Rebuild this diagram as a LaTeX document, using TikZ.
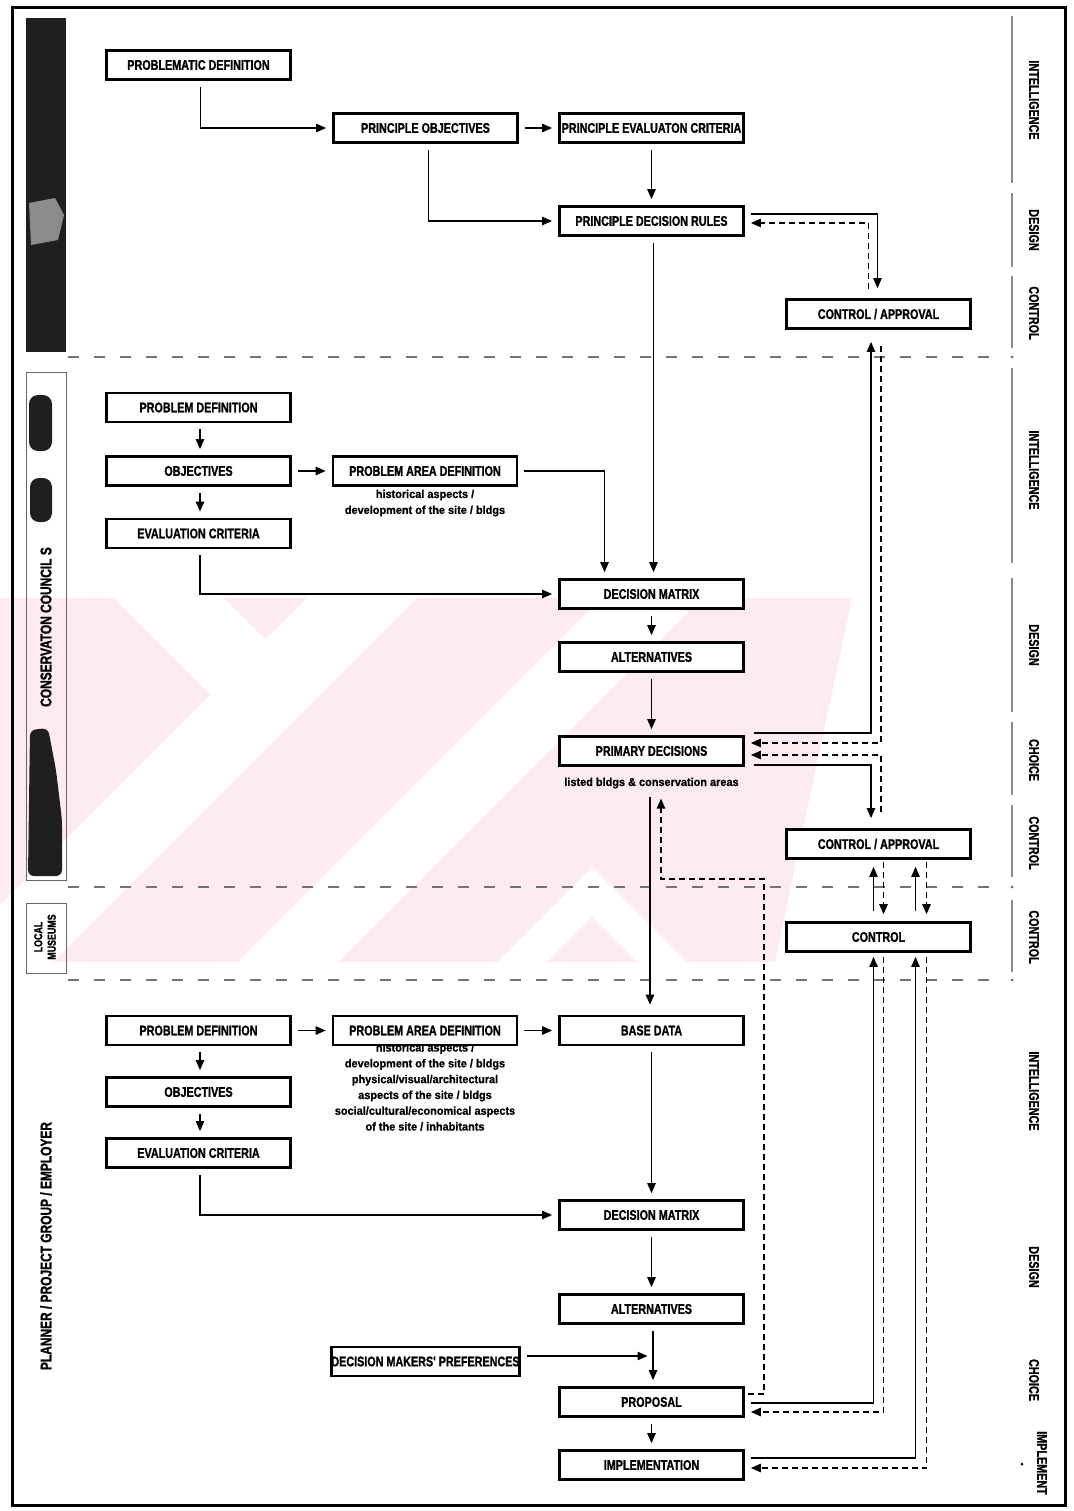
\documentclass[tikz,border=0pt]{standalone}
\usepackage{fontspec}
\newfontfamily\cf[FakeStretch=0.77,FakeBold=1.2]{Liberation Sans Bold}
\newfontfamily\cfs[FakeStretch=0.95,FakeBold=0.8]{Liberation Sans Bold}
\usetikzlibrary{arrows.meta,calc}
\definecolor{wm}{RGB}{253,235,239}
\begin{document}
\begin{tikzpicture}[x=1pt,y=-1pt,
  box/.style={draw, line width=2.8pt, minimum width=184pt, minimum height=29pt, inner sep=0pt, fill=white,
    font=\cf\fontsize{14}{15}\selectfont},
  arr/.style={line width=1.2pt, -{Triangle[length=10pt,width=8.5pt]}, shorten <=6pt, shorten >=6pt},
  darr/.style={arr, dash pattern=on 6pt off 4pt},
  sep/.style={line width=1.6pt, black!55, dash pattern=on 11pt off 15pt},
  rline/.style={line width=1.4pt, black!45},
  lab/.style={font=\cf\fontsize{14}{15}\selectfont, rotate=-90, inner sep=0pt},
  llab/.style={font=\cf\fontsize{15.5}{16}\selectfont, rotate=90, inner sep=0pt},
  small/.style={font=\cfs\fontsize{11.5}{16}\selectfont, align=center, inner sep=0pt},
]
\useasboundingbox (0,0) rectangle (1073,1511);
\fill[white] (0,0) rectangle (1073,1511);

% faint watermark
\begin{scope}
\clip (0,598) -- (852,598) -- (775,962) -- (0,962) -- cycle;
\fill[wm] (0,598) rectangle (860,962);
\fill[white] (307,598) -- (417,598) -- (53,962) -- (-57,962) -- cycle;
\fill[white] (114,598) -- (224,598) -- (320,694) -- (210,694) -- cycle;
\fill[white] (602,598) -- (702,598) -- (338,962) -- (238,962) -- cycle;
\fill[white] (592,867) -- (687,962) -- (637,962) -- (592,917) -- (547,962) -- (497,962) -- cycle;
\end{scope}

% outer frame
\draw[line width=3pt] (12,8) rectangle (1065,1505);

% left side panels
\fill[black!88] (26,18) rectangle (66,352);
\fill[black!45] (29,203) -- (55,198) -- (64,215) -- (58,240) -- (31,245) -- cycle;
\draw[line width=0.6pt, black!60] (26,372) rectangle (66,880);
\fill[black!88, rounded corners=9pt] (29,395) rectangle (52,451);
\fill[black!88, rounded corners=9pt] (30,478) rectangle (52,522);
\fill[black!88, rounded corners=6pt] (30,730) -- (48,728) -- (56,770) -- (62,820) -- (62,876) -- (28,876) -- cycle;
\node[llab] (cc) at (46,627) {CONSERVATON COUNCIL S};
\draw[line width=0.6pt, black!60] (26,903) rectangle (66,973);
\node[font=\cf\fontsize{11.5}{13.5}\selectfont, rotate=90, align=center, inner sep=0pt] (lm) at (45,937) {LOCAL\\MUSEUMS};
\node[llab] (pl) at (46,1246) {PLANNER / PROJECT GROUP / EMPLOYER};

% separators
\foreach \yy in {357,887,980}{
  \draw[sep] (68,\yy) -- (1002,\yy);
  \fill[black!60] (1012,\yy) circle (1.5pt);
}

% right side lines and labels
\foreach \a/\b in {16/183,193/267,276/348,368/563,578/712,722/795,805/877,900/972}{
  \draw[rline] (1012,\a) -- (1012,\b);
}
\fill (1022,1464) circle (1.5pt);
\node[lab] (l1) at (1034,100) {INTELLIGENCE};
\node[lab] (l2) at (1034,230) {DESIGN};
\node[lab] (l3) at (1034,313) {CONTROL};
\node[lab] (l4) at (1034,470) {INTELLIGENCE};
\node[lab] (l5) at (1034,645) {DESIGN};
\node[lab] (l6) at (1034,760) {CHOICE};
\node[lab] (l7) at (1034,843) {CONTROL};
\node[lab] (l8) at (1034,937) {CONTROL};
\node[lab] (l9) at (1034,1091) {INTELLIGENCE};
\node[lab] (l10) at (1034,1267) {DESIGN};
\node[lab] (l11) at (1034,1380) {CHOICE};
\node[lab] (l12) at (1042,1463) {IMPLEMENT};

% boxes
\node[box] (pd0) at (198.5,65) {PROBLEMATIC DEFINITION};
\node[box] (po) at (425.5,128) {PRINCIPLE OBJECTIVES};
\node[box] (pec) at (651.5,128) {PRINCIPLE EVALUATON CRITERIA};
\node[box] (pdr) at (651.5,221) {PRINCIPLE DECISION RULES};
\node[box] (ca1) at (878.5,314) {CONTROL / APPROVAL};

\node[box] (pd2) at (198.5,407.5) {PROBLEM DEFINITION};
\node[box] (ob2) at (198.5,471) {OBJECTIVES};
\node[box] (pad2) at (425,471) {PROBLEM AREA DEFINITION};
\node[small] (pad2t) at (425,503) {historical aspects /\\development of the site / bldgs};
\node[box] (ec2) at (198.5,533.5) {EVALUATION CRITERIA};
\node[box] (dm1) at (651.5,594) {DECISION MATRIX};
\node[box] (al1) at (651.5,657) {ALTERNATIVES};
\node[box] (prd) at (651.5,751) {PRIMARY DECISIONS};
\node[small] (prdt) at (651.5,783) {listed bldgs \& conservation areas};
\node[box] (ca2) at (878.5,844) {CONTROL / APPROVAL};
\node[box] (ctl) at (878.5,937) {CONTROL};

\node[small, anchor=north, font=\cfs\fontsize{11.5}{15.8}\selectfont] (pad3t) at (425,1043) {historical aspects /\\development of the site / bldgs\\physical/visual/architectural\\aspects of the site / bldgs\\social/cultural/economical aspects\\of the site / inhabitants};
\node[box] (pd3) at (198.5,1030.5) {PROBLEM DEFINITION};
\node[box] (pad3) at (425,1030.5) {PROBLEM AREA DEFINITION};
\node[box] (bd) at (651.5,1030.5) {BASE DATA};
\node[box] (ob3) at (198.5,1092) {OBJECTIVES};
\node[box] (ec3) at (198.5,1153) {EVALUATION CRITERIA};
\node[box] (dm3) at (651.5,1215) {DECISION MATRIX};
\node[box] (al3) at (651.5,1309) {ALTERNATIVES};
\node[box] (dmp) at (425.5,1361.5) {DECISION MAKERS' PREFERENCES};
\node[box] (pro) at (651.5,1402) {PROPOSAL};
\node[box] (imp) at (651.5,1465) {IMPLEMENTATION};

% top section connectors
\draw[arr] ([xshift=2pt]pd0.south) |- (po.west);
\draw[arr] (po) -- (pec);
\draw[arr] ([xshift=3pt]po.south) |- (pdr.west);
\draw[arr] (pec) -- (pdr);
\draw[arr] ([xshift=2pt]pdr.south) -- ([xshift=2pt]dm1.north);
\draw[arr, shorten >=10pt] ([yshift=7pt]pdr.east) -| ([xshift=-1pt]ca1.north);
\draw[darr, shorten <=9pt] ([xshift=-10pt]ca1.north) |- ([yshift=-2pt]pdr.east);

% middle section connectors
\draw[arr] ([xshift=1.5pt]pd2.south) -- ([xshift=1.5pt]ob2.north);
\draw[arr] ([xshift=1.5pt]ob2.south) -- ([xshift=1.5pt]ec2.north);
\draw[arr] (ob2) -- (pad2);
\draw[arr] (pad2.east) -| ([xshift=-47pt]dm1.north);
\draw[arr] ([xshift=1.5pt]ec2.south) |- (dm1.west);
\draw[arr] (dm1) -- (al1);
\draw[arr] (al1) -- (prd);

% primary decisions <-> control/approval
\draw[arr, shorten <=9pt, shorten >=12pt] ([yshift=18pt]prd.east) -| ([xshift=-7.5pt]ca1.south);
\draw[darr, shorten <=16pt] ([xshift=2.5pt]ca1.south) |- ([yshift=8pt]prd.east);
\draw[darr, shorten <=16pt] ([xshift=2.5pt]ca2.north) |- ([yshift=-4pt]prd.east);
\draw[arr, shorten <=9pt, shorten >=10pt] ([yshift=-14pt]prd.east) -| ([xshift=-7.5pt]ca2.north);

% control/approval <-> control
\draw[arr, shorten <=10pt, shorten >=7pt] ([xshift=-5pt]ctl.north) -- ([xshift=-5pt]ca2.south);
\draw[darr, shorten <=2pt, shorten >=7pt] ([xshift=5pt]ca2.south) -- ([xshift=5pt]ctl.north);
\draw[arr, shorten <=10pt, shorten >=7pt] ([xshift=37pt]ctl.north) -- ([xshift=37pt]ca2.south);
\draw[darr, shorten <=2pt, shorten >=7pt] ([xshift=48pt]ca2.south) -- ([xshift=48pt]ctl.north);

% control <-> proposal / implementation
\draw[arr, shorten <=6pt, shorten >=4pt] ([yshift=-1pt]pro.east) -| ([xshift=-5pt]ctl.south);
\draw[darr, shorten <=4pt] ([xshift=5pt]ctl.south) |- ([yshift=-10pt]pro.east);
\draw[arr, shorten <=6pt, shorten >=4pt] ([yshift=7pt]imp.east) -| ([xshift=37pt]ctl.south);
\draw[darr, shorten <=4pt] ([xshift=48pt]ctl.south) |- ([yshift=-3pt]imp.east);

% proposal -> primary decisions (dashed) and primary decisions -> base data
\coordinate (c1) at (764,879);
\draw[darr, shorten <=3pt, shorten >=10pt] ([yshift=8pt]pro.east) -| (c1) -| ([xshift=9.5pt]prdt.south);
\draw[arr, shorten <=8pt, shorten >=10pt] ([xshift=-1.5pt]prdt.south) -- ([xshift=-1.5pt]bd.north);

% lower section connectors
\draw[arr] (pd3) -- (pad3);
\draw[arr] (pad3) -- (bd);
\draw[arr] ([xshift=1.5pt]pd3.south) -- ([xshift=1.5pt]ob3.north);
\draw[arr] ([xshift=1.5pt]ob3.south) -- ([xshift=1.5pt]ec3.north);
\draw[arr] ([xshift=1.5pt]ec3.south) |- (dm3.west);
\draw[arr] (bd) -- (dm3);
\draw[arr] (dm3) -- (al3);
\draw[arr] ([xshift=1.5pt]al3.south) -- ([xshift=1.5pt]pro.north);
\draw[arr, shorten >=4pt] ([yshift=5.5pt]dmp.east) -- ([yshift=5.5pt]dmp.east -| al3.south);
\draw[arr] (pro) -- (imp);
\end{tikzpicture}
\end{document}
